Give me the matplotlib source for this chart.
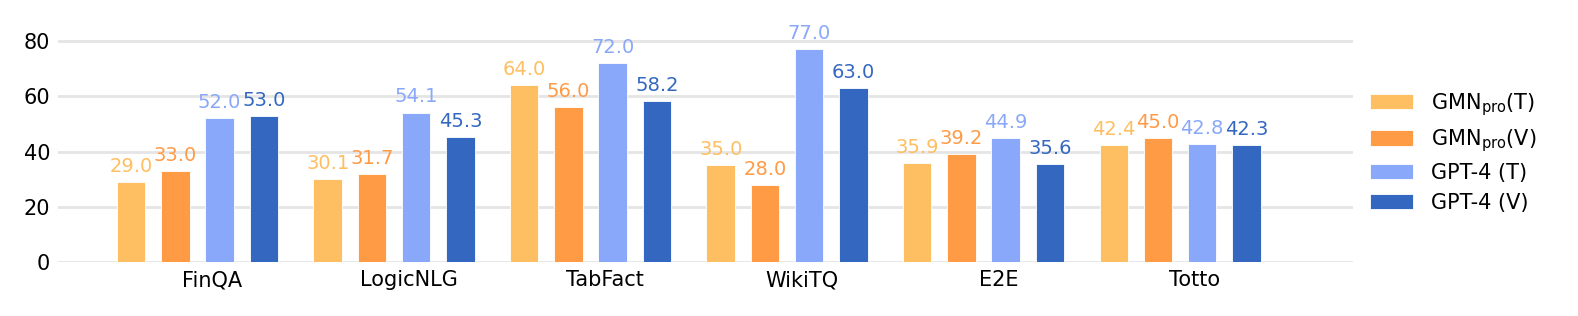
import matplotlib
matplotlib.use("Agg")
import matplotlib.pyplot as plt
import numpy as np

categories = ["FinQA", "LogicNLG", "TabFact", "WikiTQ", "E2E", "Totto"]
series_names = [r"GMN$_{\mathrm{pro}}$(T)", r"GMN$_{\mathrm{pro}}$(V)", "GPT-4 (T)", "GPT-4 (V)"]
gmn_t = [29.0, 30.1, 64.0, 35.0, 35.9, 42.4]
gmn_v = [33.0, 31.7, 56.0, 28.0, 39.2, 45.0]
gpt_t = [52.0, 54.1, 72.0, 77.0, 44.9, 42.8]
gpt_v = [53.0, 45.3, 58.2, 63.0, 35.6, 42.3]
colors = ["#FDBF61", "#FF9A45", "#8AA8F9", "#3468C0"]
yticks = [0, 20, 40, 60, 80]

fig = plt.figure(figsize=(15.78, 3.16), dpi=100)
ax = fig.add_axes([58/1578, 54/316, (1353-58)/1578, 234.8/316])

x = np.arange(len(categories))
step = 0.225
width = 0.145
all_series = [gmn_t, gmn_v, gpt_t, gpt_v]
for i, (vals, name, c) in enumerate(zip(all_series, series_names, colors)):
    pos = x + (i - 1.5) * step
    ax.bar(pos, vals, width=width, color=c, label=name, zorder=3,
           edgecolor="white", linewidth=0.6)
    for p, v in zip(pos, vals):
        ax.text(p, v + 2.2, f"{v:.1f}", ha="center", va="bottom", color=c, fontsize=14)

ax.set_xlim(-0.71, 5.88)
ax.set_ylim(0, 85)
ax.set_yticks(yticks)
ax.set_xticks(x + 0.075)
ax.set_xticklabels(categories, fontsize=15)
ax.tick_params(axis="y", labelsize=15, length=0, pad=5.5)
ax.tick_params(axis="x", length=0, pad=6)
ax.grid(axis="y", color="#e5e5e5", linewidth=2, zorder=0)
for s in ax.spines.values():
    s.set_visible(False)

leg = ax.legend(loc="center left", bbox_to_anchor=(1.0, 0.47), frameon=False,
                fontsize=15, handlelength=2.1, handleheight=0.75, labelspacing=0.45,
                handletextpad=0.85, borderaxespad=0.4)

fig.savefig("out.png", dpi=100)
